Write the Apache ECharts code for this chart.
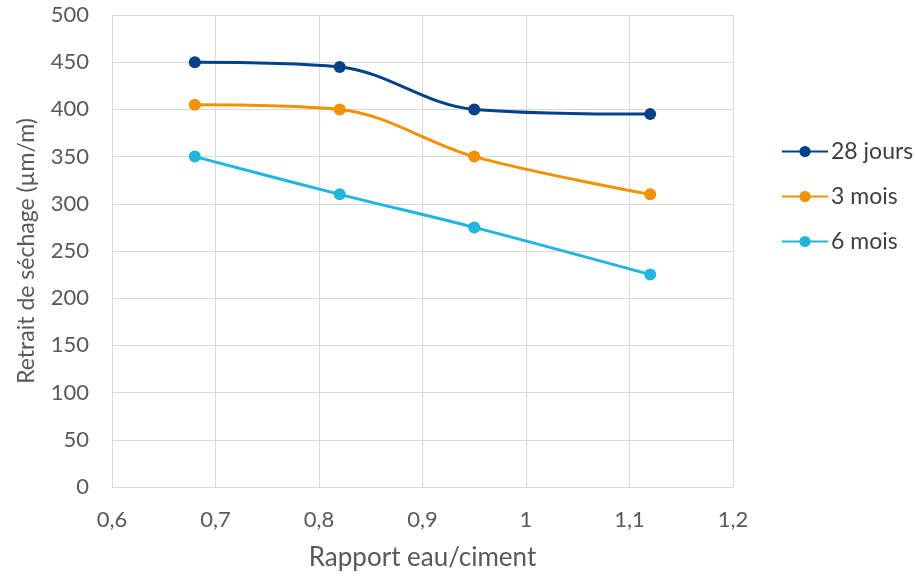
<!DOCTYPE html>
<html>
<head>
<meta charset="utf-8">
<script src="https://cdn.jsdelivr.net/npm/echarts@6/dist/echarts.min.js"></script>
<style>
  html, body { margin: 0; padding: 0; background: #fff; }
  #chart { width: 915px; height: 576px; }
</style>
</head>
<body>
<div id="chart"></div>
<script>
// Rapport eau/ciment (x) and drying shrinkage in µm/m (y)
const ratios = [0.68, 0.82, 0.95, 1.12];
const jours28 = [450, 445, 400, 395];
const mois3 = [405, 400, 350, 310];
const mois6 = [350, 310, 275, 225];
const seriesNames = ['28 jours', '3 mois', '6 mois'];
const colors = ['#03428A', '#F39200', '#1FB7E0'];

const FONT = 'Lato, "Open Sans", sans-serif';
const pairs = vals => ratios.map((r, i) => [r, vals[i]]);
const fmt = v => String(Math.round(v * 10) / 10).replace('.', ',');

const chart = echarts.init(document.getElementById('chart'));
chart.setOption({
  animation: false,
  grid: { left: 112, right: 182, top: 15, bottom: 89, containLabel: false, outerBoundsMode: 'none' },
  legend: {
    orient: 'vertical',
    left: 776,
    top: 135,
    itemWidth: 46,
    itemHeight: 14,
    itemGap: 22,
    textStyle: { fontFamily: FONT, fontSize: 23, color: '#404040', padding: [0, 0, 0, -2] },
    data: seriesNames
  },
  xAxis: {
    type: 'value',
    min: 0.6,
    max: 1.2,
    interval: 0.1,
    name: 'Rapport eau/ciment',
    nameLocation: 'middle',
    nameGap: 58,
    nameTextStyle: { fontFamily: FONT, fontSize: 26, color: '#595959' },
    axisLine: { show: true, lineStyle: { color: '#d9d9d9', width: 1 } },
    axisTick: { show: false },
    splitLine: { show: true, lineStyle: { color: '#d9d9d9', width: 1 } },
    axisLabel: { fontFamily: FONT, fontSize: 22, color: '#595959', margin: 22, formatter: fmt }
  },
  yAxis: {
    type: 'value',
    min: 0,
    max: 500,
    interval: 50,
    name: 'Retrait de séchage (µm/m)',
    nameLocation: 'middle',
    nameGap: 74,
    nameTextStyle: { fontFamily: FONT, fontSize: 23, color: '#595959' },
    axisLine: { show: false },
    axisTick: { show: false },
    splitLine: { show: true, lineStyle: { color: '#d9d9d9', width: 1 } },
    axisLabel: { fontFamily: FONT, fontSize: 22, color: '#595959', margin: 23 }
  },
  series: [jours28, mois3, mois6].map((vals, i) => ({
    name: seriesNames[i],
    type: 'line',
    data: pairs(vals),
    smooth: 0.35,
    symbol: 'circle',
    symbolSize: 12,
    color: colors[i],
    lineStyle: { width: 3, color: colors[i] },
    itemStyle: { color: colors[i] }
  }))
});
</script>
</body>
</html>
